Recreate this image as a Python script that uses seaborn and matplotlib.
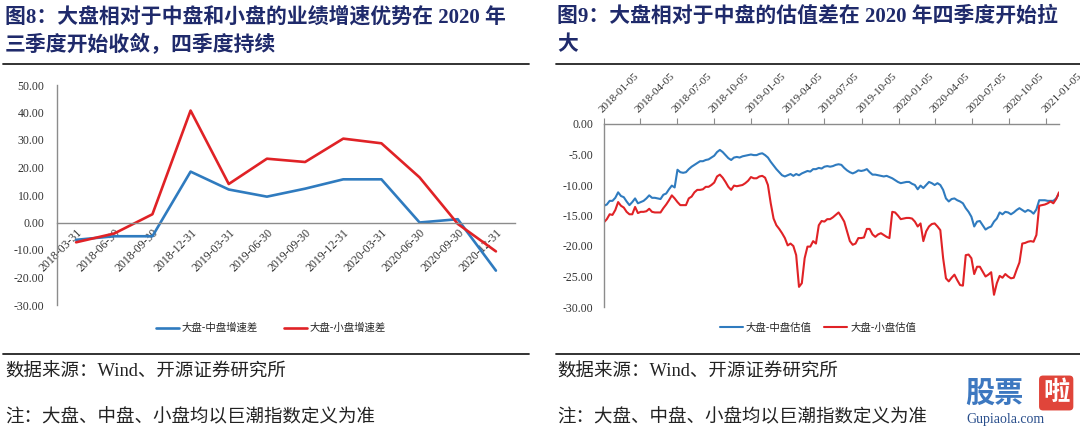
import pandas as pd
import matplotlib
matplotlib.use("Agg")
import matplotlib.pyplot as plt
import seaborn as sns
from matplotlib.lines import Line2D

# ---- 图8 data (quarterly growth spread) ----
quarters = ["2018-03-31", "2018-06-30", "2018-09-30", "2018-12-31",
            "2019-03-31", "2019-06-30", "2019-09-30", "2019-12-31",
            "2020-03-31", "2020-06-30", "2020-09-30", "2020-12-31"]
big_mid_growth = [-6.3, -5.0, -5.0, 18.5, 12.0, 9.4, 12.3, 15.7, 15.7, 0.0, 1.2, -17.5]
big_small_growth = [-7.2, -4.0, 3.0, 40.7, 14.0, 23.2, 22.0, 30.5, 28.8, 16.4, -0.5, -10.5]

# ---- 图9 data (weekly valuation spread) ----
first_week = "2018-01-05"
big_mid_val = [
    -13.4, -13.2, -12.6, -12.6, -12.1, -11.2, -11.8, -12.0, -12.7, -13.3,
    -12.8, -12.2, -13.0, -12.8, -12.6, -12.2, -11.7, -12.1, -12.1, -12.2,
    -12.3, -11.6, -11.4, -10.7, -10.1, -10.4, -7.5, -7.9, -8.0, -7.9,
    -7.4, -7.0, -6.7, -6.4, -6.1, -6.1, -5.9, -5.8, -5.5, -5.2,
    -4.6, -4.25, -4.6, -5.1, -5.6, -5.9, -5.5, -5.4, -5.5, -5.3,
    -5.2, -5.1, -5.0, -5.1, -5.1, -4.9, -4.8, -5.1, -5.5, -6.2,
    -6.8, -7.4, -7.9, -8.4, -8.6, -8.4, -8.2, -8.5, -8.2, -8.4,
    -8.1, -7.9, -7.7, -7.8, -7.4, -7.4, -7.2, -7.3, -7.0, -6.9,
    -7.0, -6.9, -6.7, -6.6, -6.7, -7.2, -7.6, -7.9, -8.1, -7.9,
    -7.6, -7.7, -7.6, -7.4, -7.9, -8.3, -8.3, -8.4, -8.5, -8.6,
    -8.5, -8.7, -8.9, -9.2, -9.5, -9.7, -9.6, -9.5, -9.5, -9.8,
    -10.0, -10.7, -10.1, -10.5, -10.0, -9.5, -9.7, -10.0, -9.7, -10.0,
    -10.8, -12.2, -12.7, -12.3, -12.2, -12.5, -12.7, -13.0, -13.8, -14.4,
    -15.2, -16.8, -16.0, -15.9, -16.6, -17.3, -17.0, -16.8, -16.0, -15.5,
    -14.5, -14.8, -14.4, -14.5, -14.8, -14.5, -14.1, -13.8, -14.1, -14.4,
    -14.1, -14.3, -14.7, -14.0, -12.5, -12.5, -12.5, -12.6, -12.6, -12.6,
    -12.2, -11.4]
big_small_val = [
    -16.1, -15.6, -14.8, -14.9, -14.1, -12.8, -13.4, -13.7, -14.4, -14.8,
    -14.8, -13.6, -14.6, -14.4, -14.4, -14.3, -13.9, -14.4, -14.5, -14.5,
    -14.5, -13.8, -13.2, -12.5, -11.7, -12.2, -12.8, -13.3, -13.3, -13.3,
    -12.2, -11.9, -11.2, -10.8, -10.8, -10.7, -10.3, -10.3, -10.0, -9.6,
    -8.6, -8.3, -8.8, -9.5, -10.3, -10.8, -10.1, -10.2, -10.1, -10.0,
    -9.7, -9.3, -8.7, -8.9, -8.9, -8.6, -8.5, -8.8, -10.0, -13.0,
    -15.5, -16.6, -17.2, -17.9, -18.7, -19.9, -19.6, -20.0, -21.5, -26.7,
    -26.1, -22.0, -20.1, -20.1, -19.2, -19.6, -16.6, -15.9, -16.0, -15.6,
    -15.6, -15.3, -14.9, -14.5, -15.2, -16.0, -17.6, -19.2, -19.8, -19.6,
    -18.7, -18.7, -18.6, -17.2, -17.2, -18.1, -18.5, -18.1, -17.9, -18.2,
    -18.5, -18.7, -14.4, -14.5, -15.0, -15.6, -15.5, -15.4, -15.4, -15.5,
    -16.0, -16.8, -16.3, -19.2, -17.6, -16.8, -16.4, -16.3, -16.8, -17.4,
    -22.0, -25.3, -25.8, -25.2, -24.7, -25.6, -26.4, -26.5, -21.5, -21.4,
    -22.0, -24.6, -23.4, -23.4, -24.2, -25.0, -24.7, -24.3, -28.0, -26.1,
    -24.9, -25.2, -24.6, -25.0, -25.3, -25.2, -23.9, -22.7, -19.6, -19.5,
    -19.3, -19.2, -19.3, -18.2, -13.4, -13.3, -13.2, -13.0, -12.7, -13.0,
    -12.3, -11.2]
date_ticks = ["2018-01-05", "2018-04-05", "2018-07-05", "2018-10-05",
              "2019-01-05", "2019-04-05", "2019-07-05", "2019-10-05",
              "2020-01-05", "2020-04-05", "2020-07-05", "2020-10-05",
              "2021-01-05"]

BLUE = "#2F7BBF"
RED = "#E02226"
AX = "#8C8C8C"
NAVY = "#1F2A6B"
CJK = ["Noto Sans CJK SC", "DejaVu Sans"]
SERIF = ["Liberation Serif", "Noto Sans CJK SC"]

sns.set_style("white")
plt.rcParams["font.family"] = CJK

W, H = 1080, 429
fig = plt.figure(figsize=(W / 100, H / 100), dpi=100)


def fx(px):
    return px / W


def fy(py):
    return 1 - py / H


# ---------------- left chart ----------------
ax1 = fig.add_axes([fx(57), fy(305), fx(458), (305 - 85) / H])
growth = pd.DataFrame({"季度": quarters,
                       "大盘-中盘增速差": big_mid_growth,
                       "大盘-小盘增速差": big_small_growth})
sns.lineplot(data=growth, x="季度", y="大盘-中盘增速差", ax=ax1, color=BLUE,
             lw=1.9, label="大盘-中盘增速差", sort=False)
sns.lineplot(data=growth, x="季度", y="大盘-小盘增速差", ax=ax1, color=RED,
             lw=1.9, label="大盘-小盘增速差", sort=False)
# spine position first: moving a spine resets the tick settings
ax1.spines["bottom"].set_position(("data", 0))
for s in ["top", "right"]:
    ax1.spines[s].set_visible(False)
for s in ["left", "bottom"]:
    ax1.spines[s].set_color(AX)
    ax1.spines[s].set_linewidth(1)
ax1.set_xlim(-0.5, len(quarters) - 0.5)
ax1.set_ylim(-30, 50)
ax1.set_yticks(range(-30, 51, 10))
ax1.set_yticklabels([f"{v:.2f}" for v in range(-30, 51, 10)],
                    family=SERIF, fontsize=8.5, color="#333333")
ax1.set_xticks(range(len(quarters)))
ax1.set_xticklabels(quarters, rotation=45, ha="right", va="top",
                    rotation_mode="anchor", family=SERIF, fontsize=8.5,
                    color="#333333")
ax1.set_xticks([k - 0.5 for k in range(len(quarters) + 1)], minor=True)
ax1.tick_params(axis="x", which="major", length=0, pad=3)
ax1.tick_params(axis="x", which="minor", length=4, direction="inout", color=AX)
ax1.tick_params(axis="y", length=3, direction="in", color=AX, pad=9)
ax1.set_xlabel("")
ax1.set_ylabel("")
ax1.legend(loc="center", bbox_to_anchor=(fx(271), fy(328)),
           bbox_transform=fig.transFigure, ncol=2, frameon=False,
           fontsize=7.5, handlelength=2.2, columnspacing=2.5,
           handletextpad=0.3)

# ---------------- right chart ----------------
ax2 = fig.add_axes([fx(604), fy(307), fx(455), (307 - 124) / H])
valuation = pd.DataFrame({
    "日期": pd.date_range(first_week, periods=len(big_mid_val), freq="7D"),
    "大盘-中盘估值": big_mid_val,
    "大盘-小盘估值": big_small_val})
sns.lineplot(data=valuation, x="日期", y="大盘-中盘估值", ax=ax2, color=BLUE,
             lw=1.5, label="大盘-中盘估值")
sns.lineplot(data=valuation, x="日期", y="大盘-小盘估值", ax=ax2, color=RED,
             lw=1.5, label="大盘-小盘估值")
for s in ["bottom", "right"]:
    ax2.spines[s].set_visible(False)
for s in ["left", "top"]:
    ax2.spines[s].set_color(AX)
    ax2.spines[s].set_linewidth(1)
ax2.set_xlim(pd.Timestamp(date_ticks[0]), valuation["日期"].iloc[-1])
ax2.set_ylim(-30, 0)
ax2.set_yticks(range(-30, 1, 5))
ax2.set_yticklabels([f"{v:.2f}" for v in range(-30, 1, 5)],
                    family=SERIF, fontsize=8.5, color="#333333")
ax2.xaxis.tick_top()
ax2.set_xticks(pd.to_datetime(date_ticks))
ax2.set_xticklabels(date_ticks, rotation=45, ha="left", va="bottom",
                    rotation_mode="anchor", family=SERIF, fontsize=8,
                    color="#333333")
ax2.tick_params(axis="x", length=4, direction="out", color=AX, pad=3)
ax2.tick_params(axis="y", length=3, direction="in", color=AX, pad=8)
ax2.set_xlabel("")
ax2.set_ylabel("")
ax2.legend(loc="center", bbox_to_anchor=(fx(818), fy(328)),
           bbox_transform=fig.transFigure, ncol=2, frameon=False,
           fontsize=7.5, handlelength=2.2, columnspacing=1.2,
           handletextpad=0.3)

# ---------------- titles, rules, footnotes ----------------
title_kw = dict(family=SERIF, fontsize=15, fontweight="bold", color=NAVY,
                va="center", ha="left")
fig.text(fx(5), fy(17), "图8：大盘相对于中盘和小盘的业绩增速优势在 2020 年", **title_kw)
fig.text(fx(5), fy(45), "三季度开始收敛，四季度持续", **title_kw)
fig.text(fx(557), fy(17), "图9：大盘相对于中盘的估值差在 2020 年四季度开始拉", **title_kw)
fig.text(fx(557), fy(45), "大", **title_kw)

for y in (64, 354):
    fig.add_artist(Line2D([fx(3), fx(529)], [fy(y), fy(y)],
                          transform=fig.transFigure, color="#222222", lw=1.3))
    fig.add_artist(Line2D([fx(556), fx(1080)], [fy(y), fy(y)],
                          transform=fig.transFigure, color="#222222", lw=1.3))

note_kw = dict(family=SERIF, fontsize=13.3, color="#222222", va="center",
               ha="left")
for x0 in (5, 557):
    fig.text(fx(x0), fy(372), "数据来源：Wind、开源证券研究所", **note_kw)
    fig.text(fx(x0), fy(418), "注：大盘、中盘、小盘均以巨潮指数定义为准", **note_kw)

# watermark
fig.text(fx(965), fy(393), "股票", fontsize=21, fontweight="bold",
         color="#3D78C0", va="center", ha="left", family=CJK)
fig.text(fx(1043), fy(393), "啦", fontsize=19, fontweight="bold",
         color="white", va="center", ha="left", family=CJK,
         bbox=dict(boxstyle="round,pad=0.15", fc="#E0453A", ec="none"))
fig.text(fx(966), fy(420), "Gupiaola.com", fontsize=10, color="#2A4F8C",
         va="center", ha="left", family=SERIF)

fig.savefig("out.png", dpi=100)
